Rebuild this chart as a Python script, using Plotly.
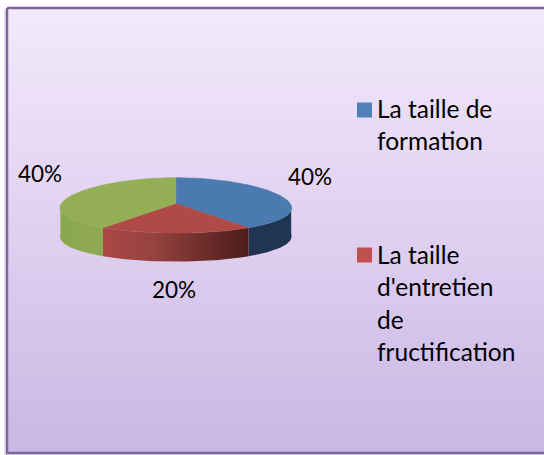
import numpy as np
import plotly.graph_objects as go

categories = ["La taille de formation", "La taille d'entretien de fructification", "Troisième part"]
values = [40, 20, 40]
top_colors = ["#4A7AB0", "#B04A47", "#93AE55"]
legend_lines = [["La taille de", "formation"], ["La taille", "d'entretien", "de", "fructification"]]
legend_colors = ["#4F81BD", "#C0504D"]

W, H = 544, 455
CX, CY, RX, RY, DEPTH, PERSP, APEX_LIFT = 175.8, 205.4, 115.4, 27.7, 28.5, 0.09, 2.0
side_scales = [
    [[0, "#1F3552"], [1, "#1F3552"]],
    [[0, "#AA4845"], [0.35, "#96423F"], [0.7, "#6C2D2A"], [1, "#4D1C1A"]],
    [[0, "#8AA64F"], [1, "#8FAA52"]],
]


def project(deg, drop=0.0):
    t = np.radians(deg)
    x, y = np.sin(t), -np.cos(t)
    return CX + RX * x * (1 + PERSP * y), CY + RY * y + drop


fig = go.Figure()

# faint shadow left of and below the frame
fig.add_trace(go.Scatter(
    x=[5, 5, W + 3], y=[10, 455, 455], mode="lines",
    line=dict(color="#E4E4E4", width=2), hoverinfo="skip", showlegend=False))

# background panel with vertical gradient; its right side runs off the page
fig.add_trace(go.Scatter(
    x=[7, W + 4, W + 4, 7, 7], y=[8, 8, 453, 453, 8], mode="lines",
    line=dict(color="#8064A2", width=2.5), fill="toself",
    fillgradient=dict(type="vertical", colorscale=[[0, "#C9B7E4"], [0.5, "#E0D0F0"], [1, "#F2EAFB"]]),
    hoverinfo="skip", showlegend=False))

edges = np.concatenate([[0], np.cumsum(values)]) / sum(values) * 360

# outer wall, front half only
for i, name in enumerate(categories):
    a, b = max(edges[i], 90), min(edges[i + 1], 270)
    if b <= a:
        continue
    th = np.linspace(a, b, 80)
    x1, y1 = project(th)
    x2, y2 = project(th[::-1], DEPTH)
    fig.add_trace(go.Scatter(
        x=np.concatenate([x1, x2, x1[:1]]), y=np.concatenate([y1, y2, y1[:1]]),
        mode="lines", line=dict(width=0), fill="toself",
        fillgradient=dict(type="horizontal", colorscale=side_scales[i]),
        hoverinfo="skip", showlegend=False))

# top faces
for i, name in enumerate(categories):
    th = np.linspace(edges[i], edges[i + 1], 120)
    x1, y1 = project(th)
    fig.add_trace(go.Scatter(
        x=np.concatenate([[CX], x1, [CX]]), y=np.concatenate([[CY - APEX_LIFT], y1, [CY - APEX_LIFT]]),
        mode="lines", line=dict(width=0.6, color=top_colors[i]), fill="toself", fillcolor=top_colors[i],
        name=name, hoverinfo="skip", showlegend=False))

# legend squares
fig.add_trace(go.Scatter(
    x=[364.5, 364.5], y=[110, 255], mode="markers",
    marker=dict(symbol="square", size=15, color=legend_colors, line=dict(width=0)),
    hoverinfo="skip", showlegend=False))

FONT = "Lato, sans-serif"
anns = []
for (x, y), v in zip([(310, 176), (174, 289), (40, 173)], values):
    anns.append(dict(x=x, y=y, text=f"{v}%", showarrow=False, xanchor="center", yanchor="middle",
                     font=dict(family=FONT, size=22.5, color="black")))
for lines, ys in zip(legend_lines, [[108.5, 140.5], [254.5, 286.5, 319.5, 351.5]]):
    for t, y in zip(lines, ys):
        anns.append(dict(x=375, y=y, text=t, showarrow=False, xanchor="left", yanchor="middle",
                         font=dict(family=FONT, size=24.5, color="black")))

fig.update_layout(
    width=W, height=H, margin=dict(l=0, r=0, t=0, b=0),
    paper_bgcolor="white", plot_bgcolor="white",
    xaxis=dict(range=[0, W], visible=False, fixedrange=True),
    yaxis=dict(range=[H, 0], visible=False, fixedrange=True),
    annotations=anns, showlegend=False)

fig.write_html("out.html", config=dict(displayModeBar=False),
               post_script="document.body.style.margin='0';document.body.style.overflow='hidden';")
